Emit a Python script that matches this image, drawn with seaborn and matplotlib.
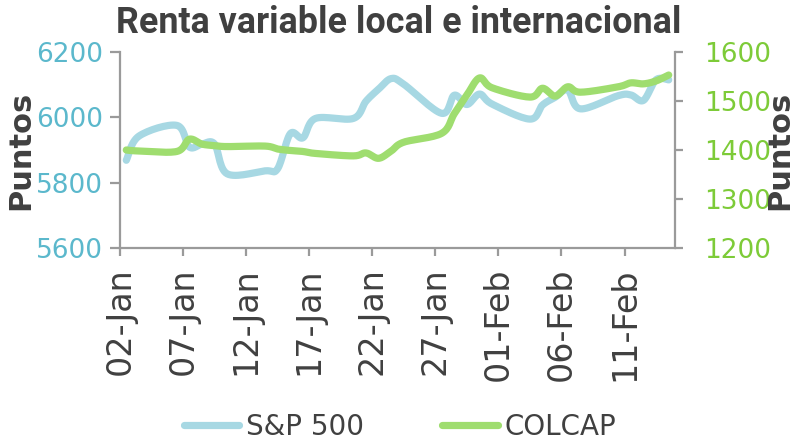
import numpy as np
import pandas as pd
import matplotlib
matplotlib.use("Agg")
import matplotlib.pyplot as plt
import matplotlib.dates as mdates
import seaborn as sns

# ---------------- data ----------------
sp_dates = ["2025-01-02", "2025-01-03", "2025-01-06", "2025-01-07", "2025-01-08", "2025-01-09",
            "2025-01-10", "2025-01-13", "2025-01-14", "2025-01-15", "2025-01-16", "2025-01-17",
            "2025-01-20", "2025-01-21", "2025-01-22", "2025-01-23", "2025-01-24", "2025-01-27",
            "2025-01-28", "2025-01-29", "2025-01-30", "2025-01-31", "2025-02-03", "2025-02-04",
            "2025-02-05", "2025-02-06", "2025-02-07", "2025-02-10", "2025-02-11", "2025-02-12",
            "2025-02-13", "2025-02-14"]
sp_values = [5868.55, 5942.47, 5975.38, 5909.03, 5918.25, 5918.25,
             5827.04, 5836.22, 5842.91, 5949.91, 5937.34, 5996.66,
             5996.66, 6049.24, 6086.37, 6118.71, 6101.24, 6012.28,
             6067.70, 6039.31, 6071.17, 6040.53, 5994.57, 6037.88,
             6061.48, 6083.57, 6025.99, 6066.44, 6068.50, 6051.97,
             6115.07, 6114.63]

col_dates = ["2025-01-02", "2025-01-03", "2025-01-06", "2025-01-07", "2025-01-08", "2025-01-09",
             "2025-01-10", "2025-01-13", "2025-01-14", "2025-01-15", "2025-01-16", "2025-01-17",
             "2025-01-20", "2025-01-21", "2025-01-22", "2025-01-23", "2025-01-24", "2025-01-27",
             "2025-01-28", "2025-01-29", "2025-01-30", "2025-01-31", "2025-02-03", "2025-02-04",
             "2025-02-05", "2025-02-06", "2025-02-07", "2025-02-10", "2025-02-11", "2025-02-12",
             "2025-02-13", "2025-02-14"]
col_values = [1400, 1398, 1397, 1422, 1412, 1409,
              1407, 1408, 1402, 1399, 1397, 1393,
              1388, 1394, 1383, 1398, 1416, 1434,
              1474, 1512, 1547, 1527, 1508, 1526,
              1510, 1529, 1518, 1529, 1537, 1535,
              1541, 1553]

series_names = ["S&P 500", "COLCAP"]
title = "Renta variable local e internacional"
y_label = "Puntos"
left_ticks = [5600, 5800, 6000, 6200]
right_ticks = [1200, 1300, 1400, 1500, 1600]
x_tick_dates = ["2025-01-02", "2025-01-07", "2025-01-12", "2025-01-17", "2025-01-22",
                "2025-01-27", "2025-02-01", "2025-02-06", "2025-02-11"]

# ---------------- style ----------------
sns.set_style("white")
plt.rcParams["font.family"] = ["DejaVu Sans"]

SP_COLOR = "#A7D8E3"
COL_COLOR = "#9FDD6F"
SP_TICK = "#5BB8CC"
COL_TICK = "#7DCB38"
SPINE = "#9A9A9A"
TEXT = "#404040"


def smooth(dates, values, n=16):
    """Excel-like smoothed line (cubic Bezier through the data points); points sit mid-day."""
    x = mdates.date2num(pd.to_datetime(dates) + pd.Timedelta(hours=12))
    y = np.asarray(values, float)
    P = np.column_stack([x, y])
    E = np.vstack([P[0], P, P[-1]])
    segs = []
    t = np.linspace(0, 1, n, endpoint=False)[:, None]
    for i in range(len(P) - 1):
        p0, p1, p2, p3 = E[i], E[i + 1], E[i + 2], E[i + 3]
        c1 = p1 + (p2 - p0) / 6
        c2 = p2 - (p3 - p1) / 6
        segs.append((1 - t) ** 3 * p1 + 3 * (1 - t) ** 2 * t * c1 + 3 * (1 - t) * t ** 2 * c2 + t ** 3 * p2)
    segs.append(P[-1:])
    S = np.vstack(segs)
    return pd.DataFrame({"date": mdates.num2date(S[:, 0]), "value": S[:, 1]})


sp_df = smooth(sp_dates, sp_values)
col_df = smooth(col_dates, col_values)

fig = plt.figure(figsize=(7.93, 4.44), dpi=100)
ax = fig.add_axes([120 / 793, 1 - 248 / 444, 555 / 793, 196 / 444])
ax2 = ax.twinx()

sns.lineplot(data=sp_df, x="date", y="value", ax=ax, sort=False, estimator=None,
             color=SP_COLOR, lw=5.2, solid_capstyle="round", label=series_names[0], legend=False)
sns.lineplot(data=col_df, x="date", y="value", ax=ax2, sort=False, estimator=None,
             color=COL_COLOR, lw=5.2, solid_capstyle="round", label=series_names[1], legend=False)

xmin = pd.Timestamp("2025-01-02")
xmax = pd.Timestamp("2025-02-15")
ax.set_xlim(xmin, xmax)
ax.set_ylim(left_ticks[0], left_ticks[-1])
ax2.set_ylim(right_ticks[0], right_ticks[-1])
ax.set_yticks(left_ticks)
ax2.set_yticks(right_ticks)
ax.set_xticks(pd.to_datetime(x_tick_dates))
ax.xaxis.set_major_formatter(mdates.DateFormatter("%d-%b"))

for a in (ax, ax2):
    for s in a.spines.values():
        s.set_color(SPINE)
        s.set_linewidth(1.6)
    a.spines["top"].set_visible(False)
    a.grid(False)
ax.spines["right"].set_visible(False)
ax2.spines["left"].set_visible(False)
ax2.spines["bottom"].set_visible(False)

ax.tick_params(axis="y", colors=SPINE, labelcolor=SP_TICK, labelsize=19, length=7, width=1.6,
               direction="out", pad=5, left=True)
ax2.tick_params(axis="y", colors=SPINE, labelcolor=COL_TICK, labelsize=19, length=6, width=1.6,
                direction="out", pad=15, right=True)
ax.tick_params(axis="x", colors=SPINE, labelcolor=TEXT, labelsize=24, length=6, width=1.6,
               direction="out", pad=8, bottom=True, labelrotation=90)

ax.set_xlabel("")
ax.set_ylabel(y_label, fontsize=22, fontweight="bold", color=TEXT)
ax2.set_ylabel(y_label, fontsize=22, fontweight="bold", color=TEXT, rotation=90)
ax.yaxis.set_label_coords(-0.153, 0.5)
ax2.yaxis.set_label_coords(1.162, 0.5)

fig.text(399 / 793, 1 - 33 / 444, title, ha="center", va="baseline", fontsize=25.8,
         fontweight="bold", color=TEXT, family=["Roboto", "DejaVu Sans"])

h1, l1 = ax.get_legend_handles_labels()
h2, l2 = ax2.get_legend_handles_labels()
fig.legend(h1 + h2, l1 + l2, loc="center", bbox_to_anchor=(400 / 793, 1 - 427 / 444), ncol=2,
           frameon=False, fontsize=20, handlelength=2.0, handletextpad=0.25, columnspacing=2.8,
           labelcolor=TEXT)

fig.savefig("out.png", dpi=100)
